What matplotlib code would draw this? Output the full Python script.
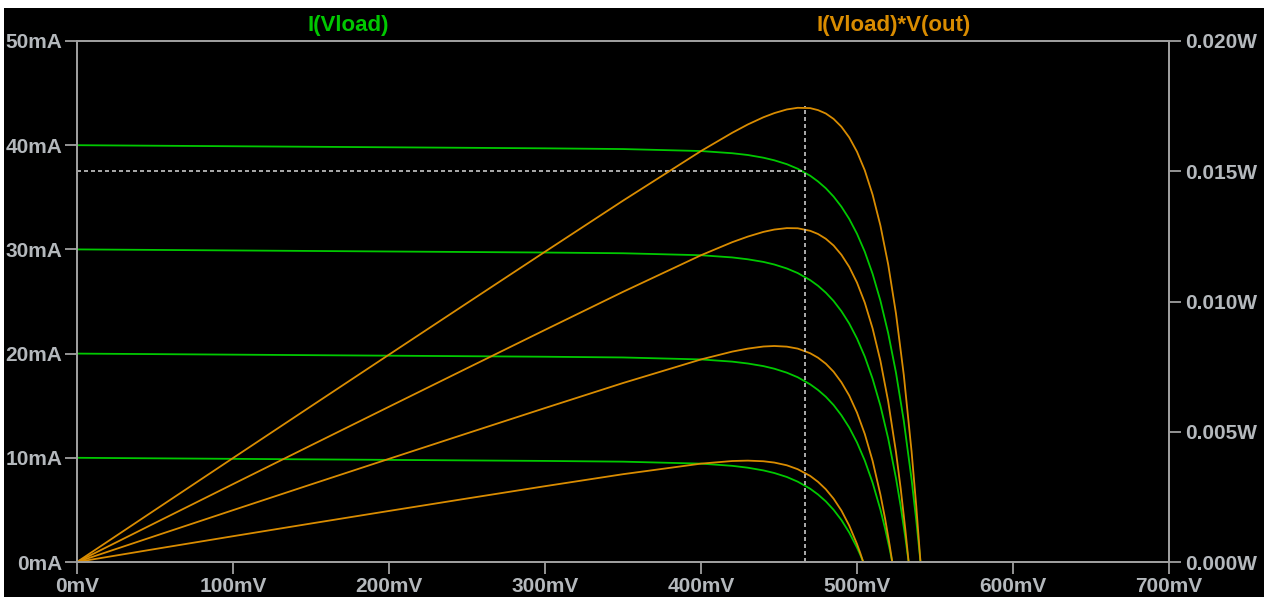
import matplotlib
matplotlib.use("Agg")
import matplotlib.pyplot as plt
from matplotlib.patches import Rectangle
from matplotlib.ticker import FuncFormatter, MultipleLocator

# %% Data (voltage in mV, current in mA)

v_40 = [0, 50, 100, 150, 200, 250, 300, 350, 400, 420, 430, 440, 447, 455, 462,
        470, 475, 480, 485, 490, 495, 500, 505, 510, 515, 520, 525, 530, 535,
        538, 540.7]
i_40 = [40.0, 39.95, 39.9, 39.85, 39.8, 39.75, 39.7, 39.63, 39.44, 39.23, 39.06,
        38.8, 38.55, 38.18, 37.74, 37.07, 36.52, 35.87, 35.07, 34.1, 32.93, 31.5,
        29.77, 27.65, 25.08, 21.96, 18.16, 13.54, 7.91, 3.97, 0.0]

v_30 = [0, 50, 100, 150, 200, 250, 300, 350, 400, 420, 430, 440, 447, 455, 462,
        470, 475, 480, 485, 490, 495, 500, 505, 510, 515, 520, 525, 528, 531,
        533.1]
i_30 = [30.0, 29.95, 29.9, 29.85, 29.8, 29.75, 29.7, 29.63, 29.44, 29.23, 29.05,
        28.8, 28.55, 28.17, 27.73, 27.05, 26.51, 25.85, 25.05, 24.07, 22.89, 21.45,
        19.71, 17.58, 15.0, 11.85, 8.03, 5.35, 2.33, 0.0]

v_20 = [0, 50, 100, 150, 200, 250, 300, 350, 400, 420, 430, 440, 447, 455, 462,
        470, 475, 480, 485, 490, 495, 500, 505, 510, 515, 518, 521, 522.6]
i_20 = [20.0, 19.95, 19.9, 19.85, 19.8, 19.75, 19.7, 19.63, 19.44, 19.23, 19.05,
        18.8, 18.55, 18.17, 17.73, 17.05, 16.51, 15.86, 15.06, 14.08, 12.91, 11.47,
        9.73, 7.61, 5.03, 3.22, 1.19, 0.0]

v_10 = [0, 50, 100, 150, 200, 250, 300, 350, 400, 420, 430, 440, 447, 455, 462,
        470, 475, 480, 485, 490, 495, 500, 502, 504]
i_10 = [10.0, 9.95, 9.9, 9.85, 9.8, 9.75, 9.7, 9.63, 9.44, 9.23, 9.05,
        8.79, 8.54, 8.16, 7.71, 7.03, 6.48, 5.82, 5.01, 4.03, 2.83, 1.38,
        0.72, 0.0]

curves = [(v_40, i_40), (v_30, i_30), (v_20, i_20), (v_10, i_10)]

# cursor position (mV, mA, W)
cursor_v = 466.5
cursor_i = 37.55
cursor_p = 0.01752

title_i = "I(Vload)"
title_p = "I(Vload)*V(out)"

green = "#00c800"
orange = "#d98c00"
grey_txt = "#b4b8bc"
grey_axis = "#a0a0a0"

# %% Plot

W, H = 1266, 597
fig = plt.figure(figsize=(W / 100, H / 100), dpi=100)
fig.patch.set_facecolor("black")

ax = fig.add_axes([77 / W, (H - 562) / H, (1169 - 77) / W, (562 - 41) / H])
ax.set_facecolor("black")
ax2 = ax.twinx()

for vv, ii in curves:
    ax.plot(vv, ii, color=green, linewidth=1.3, solid_joinstyle="round")
    pp = [v * i / 1e6 for v, i in zip(vv, ii)]
    ax2.plot(vv, pp, color=orange, linewidth=1.3, solid_joinstyle="round")

# cursor crosshair
dash = (0, (2.4, 1.8))
ax.plot([0, cursor_v], [cursor_i, cursor_i], color="#c8c8c8", linewidth=1.2,
        linestyle=dash)
ax2.plot([cursor_v, cursor_v], [0, cursor_p], color="#c8c8c8", linewidth=1.2,
         linestyle=dash)

ax.set_xlim(0, 700)
ax.set_ylim(0, 50)
ax2.set_ylim(0, 0.020)

ax.xaxis.set_major_locator(MultipleLocator(100))
ax.yaxis.set_major_locator(MultipleLocator(10))
ax2.yaxis.set_major_locator(MultipleLocator(0.005))
ax.xaxis.set_major_formatter(FuncFormatter(lambda x, p: f"{x:.0f}mV"))
ax.yaxis.set_major_formatter(FuncFormatter(lambda y, p: f"{y:.0f}mA"))
ax2.yaxis.set_major_formatter(FuncFormatter(lambda y, p: f"{y:.3f}W"))

tick_font = dict(family="Liberation Sans", weight="bold", size=15)
for a in (ax, ax2):
    for s in a.spines.values():
        s.set_color(grey_axis)
        s.set_linewidth(1.3)
    a.tick_params(colors=grey_axis, length=8.6, width=1.3, labelcolor=grey_txt)
    for lab in a.get_xticklabels() + a.get_yticklabels():
        lab.set_fontproperties(matplotlib.font_manager.FontProperties(**tick_font))
ax.tick_params(axis="x", pad=2)
ax.tick_params(axis="y", pad=2)
ax2.tick_params(axis="y", pad=3)

title_font = dict(family="Liberation Sans", weight="bold", size=16)
fig.text(348 / W, 1 - 25 / H, title_i, color=green, ha="center", va="center",
         **title_font)
fig.text(894 / W, 1 - 25 / H, title_p, color=orange, ha="center", va="center",
         **title_font)

# white screenshot border
fig.patches.append(Rectangle((0, 1 - 8 / H), 1, 8 / H, transform=fig.transFigure,
                             facecolor="white", edgecolor="none"))
fig.patches.append(Rectangle((0, 0), 4 / W, 1, transform=fig.transFigure,
                             facecolor="white", edgecolor="none"))
fig.patches.append(Rectangle((1 - 2 / W, 0), 2 / W, 1, transform=fig.transFigure,
                             facecolor="white", edgecolor="none"))

fig.savefig("out.png", dpi=100, facecolor=fig.get_facecolor())
